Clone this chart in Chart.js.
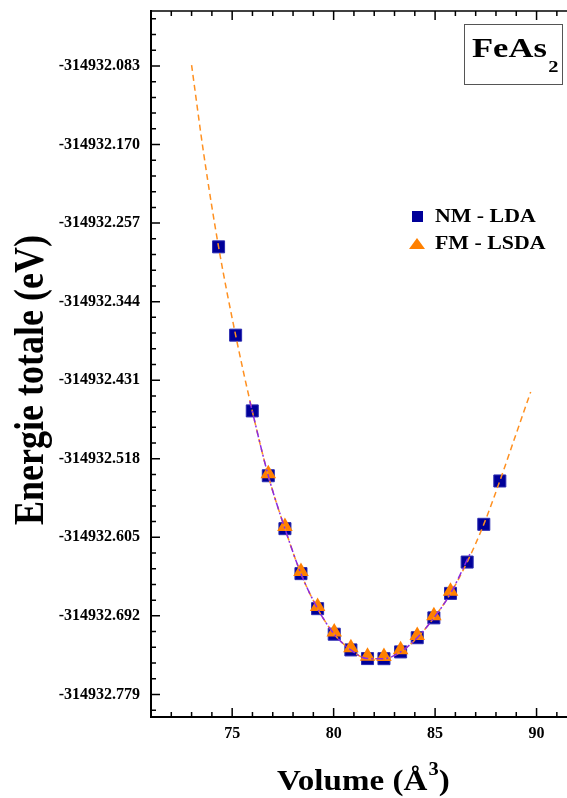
<!DOCTYPE html>
<html lang="fr">
<head>
<meta charset="UTF-8">
<title>FeAs2 - Energie totale en fonction du volume</title>
<script src="https://cdn.jsdelivr.net/npm/chart.js"></script>
<style>
  html, body { margin: 0; padding: 0; background: #fff; }
  #wrap { width: 567px; height: 798px; }
</style>
</head>
<body>
<div id="wrap"><canvas id="eosChart" width="567" height="798"></canvas></div>
<script>
// Points calculés (Å^3, eV)
const volNM = [74.33, 75.17, 75.99, 76.78, 77.60, 78.39, 79.21, 80.03, 80.85, 81.67, 82.48, 83.30, 84.12, 84.94, 85.76, 86.58, 87.40, 88.19];
const energyNM = [-314932.2833, -314932.3811, -314932.4650, -314932.5368, -314932.5954, -314932.6452, -314932.6840, -314932.7123, -314932.7297, -314932.7393, -314932.7394, -314932.7319, -314932.7162, -314932.6942, -314932.6671, -314932.6324, -314932.5906, -314932.5426];

const volFM = [76.78, 77.60, 78.39, 79.21, 80.03, 80.85, 81.67, 82.48, 83.30, 84.12, 84.94, 85.76];
const energyFM = [-314932.5345, -314932.5930, -314932.6428, -314932.6815, -314932.7100, -314932.7272, -314932.7368, -314932.7370, -314932.7295, -314932.7138, -314932.6918, -314932.6648];

// Courbes d'ajustement
const fitNMVol = [73.00, 73.60, 74.33, 75.17, 75.99, 76.78, 77.60, 78.39, 79.21, 80.03, 80.85, 81.67, 82.48, 83.30, 84.12, 84.94, 85.76, 86.58, 87.40, 88.19, 89.00, 89.71];
const fitNMEnergy = [-314932.0820, -314932.1805, -314932.2833, -314932.3811, -314932.4650, -314932.5368, -314932.5954, -314932.6452, -314932.6840, -314932.7123, -314932.7297, -314932.7393, -314932.7394, -314932.7319, -314932.7162, -314932.6942, -314932.6671, -314932.6324, -314932.5906, -314932.5426, -314932.4900, -314932.4440];

const fitFMVol = [75.87, 76.78, 77.60, 78.39, 79.21, 80.03, 80.85, 81.67, 82.48, 83.30, 84.12, 84.94, 85.76, 86.74];
const fitFMEnergy = [-314932.4543, -314932.5368, -314932.5954, -314932.6452, -314932.6840, -314932.7123, -314932.7297, -314932.7393, -314932.7394, -314932.7319, -314932.7162, -314932.6942, -314932.6671, -314932.6224];

// Axes
const xMin = 71, xMax = 91.5;
const xMajorTicks = [75, 80, 85, 90];
const xMinorStep = 1;
const yMin = -314932.8040, yMax = -314932.0221;
const yMajorTicks = [-314932.779, -314932.692, -314932.605, -314932.518, -314932.431, -314932.344, -314932.257, -314932.170, -314932.083];
const yMinorDiv = 5;

const seriesLabels = ['NM - LDA', 'FM - LSDA'];

const SERIF = '"Liberation Serif", "Times New Roman", serif';
const NAVY = '#000099';
const ORANGE = '#ff8000';

function pts(xs, ys) { return xs.map((v, i) => ({ x: v, y: ys[i] })); }

function noPad(s) {
  s.paddingTop = 0; s.paddingBottom = 0; s.paddingLeft = 0; s.paddingRight = 0;
}

// ticks vers l'intérieur + cadre du haut
const frameTicks = {
  id: 'frameTicks',
  afterDatasetsDraw(chart) {
    const { ctx, chartArea: a, scales: { x, y } } = chart;
    ctx.save();
    ctx.strokeStyle = '#000';
    ctx.lineWidth = 1.5;
    ctx.beginPath();
    ctx.moveTo(a.left, a.top);
    ctx.lineTo(a.right, a.top);
    ctx.stroke();

    ctx.beginPath();
    for (let v = Math.ceil(xMin); v <= xMax; v += xMinorStep) {
      const px = x.getPixelForValue(v);
      const len = xMajorTicks.includes(v) ? 9 : 5;
      ctx.moveTo(px, a.bottom); ctx.lineTo(px, a.bottom - len);
      ctx.moveTo(px, a.top); ctx.lineTo(px, a.top + len);
    }
    const step = (yMajorTicks[1] - yMajorTicks[0]) / yMinorDiv;
    for (let k = -yMinorDiv; k <= (yMajorTicks.length + 1) * yMinorDiv; k++) {
      const v = yMajorTicks[0] + k * step;
      if (v < yMin || v > yMax) continue;
      const py = y.getPixelForValue(v);
      const len = (k % yMinorDiv === 0) ? 9 : 5;
      ctx.moveTo(a.left, py); ctx.lineTo(a.left + len, py);
    }
    ctx.stroke();
    ctx.restore();
  },
  afterDraw(chart) {
    const { ctx } = chart;
    ctx.save();
    ctx.fillStyle = '#000';

    // titre de l'axe Y
    ctx.save();
    ctx.translate(32, 380);
    ctx.rotate(-Math.PI / 2);
    ctx.scale(1, 1.15);
    ctx.font = 'bold 36px ' + SERIF;
    ctx.textAlign = 'center';
    ctx.textBaseline = 'middle';
    ctx.fillText('Energie totale (eV)', 0, 0);
    ctx.restore();

    // titre de l'axe X : Volume (Å^3)
    ctx.save();
    ctx.translate(277, 790);
    ctx.scale(1.14, 1);
    ctx.textBaseline = 'alphabetic';
    ctx.font = 'bold 29px ' + SERIF;
    const p1 = 'Volume (Å';
    ctx.fillText(p1, 0, 0);
    let cx = ctx.measureText(p1).width;
    ctx.font = 'bold 18px ' + SERIF;
    ctx.fillText('3', cx + 1, -15);
    cx += ctx.measureText('3').width + 1;
    ctx.font = 'bold 29px ' + SERIF;
    ctx.fillText(')', cx, 0);
    ctx.restore();

    // cadre FeAs2
    ctx.strokeStyle = '#555';
    ctx.lineWidth = 1;
    ctx.strokeRect(464.5, 24.5, 98, 60);
    ctx.save();
    ctx.translate(472, 57);
    ctx.scale(1.28, 1);
    ctx.font = 'bold 27px ' + SERIF;
    ctx.textBaseline = 'alphabetic';
    ctx.fillText('FeAs', 0, 0);
    const w = ctx.measureText('FeAs').width;
    ctx.font = 'bold 16px ' + SERIF;
    ctx.fillText('2', w + 1, 15);
    ctx.restore();

    // légende
    ctx.fillStyle = NAVY;
    ctx.fillRect(412, 211, 11, 11);
    ctx.fillStyle = ORANGE;
    ctx.beginPath();
    ctx.moveTo(417, 238); ctx.lineTo(425, 249); ctx.lineTo(409, 249); ctx.closePath();
    ctx.fill();
    ctx.fillStyle = '#000';
    ctx.font = 'bold 19px ' + SERIF;
    ctx.textBaseline = 'middle';
    [[217, seriesLabels[0]], [244, seriesLabels[1]]].forEach(([yy, t]) => {
      ctx.save();
      ctx.translate(435, yy);
      ctx.scale(1.15, 1);
      ctx.fillText(t, 0, 0);
      ctx.restore();
    });
    ctx.restore();
  }
};

new Chart(document.getElementById('eosChart'), {
  type: 'scatter',
  data: {
    datasets: [
      {
        label: 'Ajustement FM',
        data: pts(fitFMVol, fitFMEnergy),
        showLine: true,
        borderColor: '#8a2be2',
        borderWidth: 1.5,
        borderDash: [7, 3, 2, 3],
        pointRadius: 0,
        cubicInterpolationMode: 'monotone',
        order: 0
      },
      {
        label: 'Ajustement NM',
        data: pts(fitNMVol, fitNMEnergy),
        showLine: true,
        borderColor: '#ff9020',
        borderWidth: 1.5,
        borderDash: [6, 4],
        pointRadius: 0,
        cubicInterpolationMode: 'monotone',
        order: 1
      },
      {
        label: seriesLabels[1],
        data: pts(volFM, energyFM),
        pointStyle: 'triangle',
        pointRadius: 9,
        backgroundColor: ORANGE,
        borderColor: ORANGE,
        borderWidth: 0,
        order: 2
      },
      {
        label: seriesLabels[0],
        data: pts(volNM, energyNM),
        pointStyle: 'rect',
        pointRadius: 8.5,
        backgroundColor: NAVY,
        borderColor: '#2a2ab0',
        borderWidth: 1,
        order: 3
      }
    ]
  },
  options: {
    responsive: false,
    animation: false,
    devicePixelRatio: 1,
    layout: { autoPadding: false, padding: { top: 11, right: 0, bottom: 0, left: 0 } },
    plugins: {
      legend: { display: false },
      tooltip: { enabled: false }
    },
    scales: {
      x: {
        type: 'linear',
        min: xMin,
        max: xMax,
        grid: { display: false, drawTicks: false },
        border: { display: true, color: '#000', width: 2 },
        ticks: {
          autoSkip: false,
          maxRotation: 0,
          padding: 7,
          color: '#000',
          font: { family: SERIF, size: 16, weight: 'bold' }
        },
        afterBuildTicks: s => { s.ticks = xMajorTicks.map(v => ({ value: v })); },
        afterFit: s => { s.height = 81; noPad(s); }
      },
      y: {
        type: 'linear',
        min: yMin,
        max: yMax,
        grid: { display: false, drawTicks: false },
        border: { display: true, color: '#000', width: 2 },
        ticks: {
          autoSkip: false,
          padding: 11,
          color: '#000',
          font: { family: SERIF, size: 16, weight: 'bold' },
          callback: v => v.toFixed(3)
        },
        afterBuildTicks: s => { s.ticks = yMajorTicks.map(v => ({ value: v })); },
        afterFit: s => { s.width = 151; noPad(s); }
      }
    }
  },
  plugins: [frameTicks]
});
</script>
</body>
</html>
